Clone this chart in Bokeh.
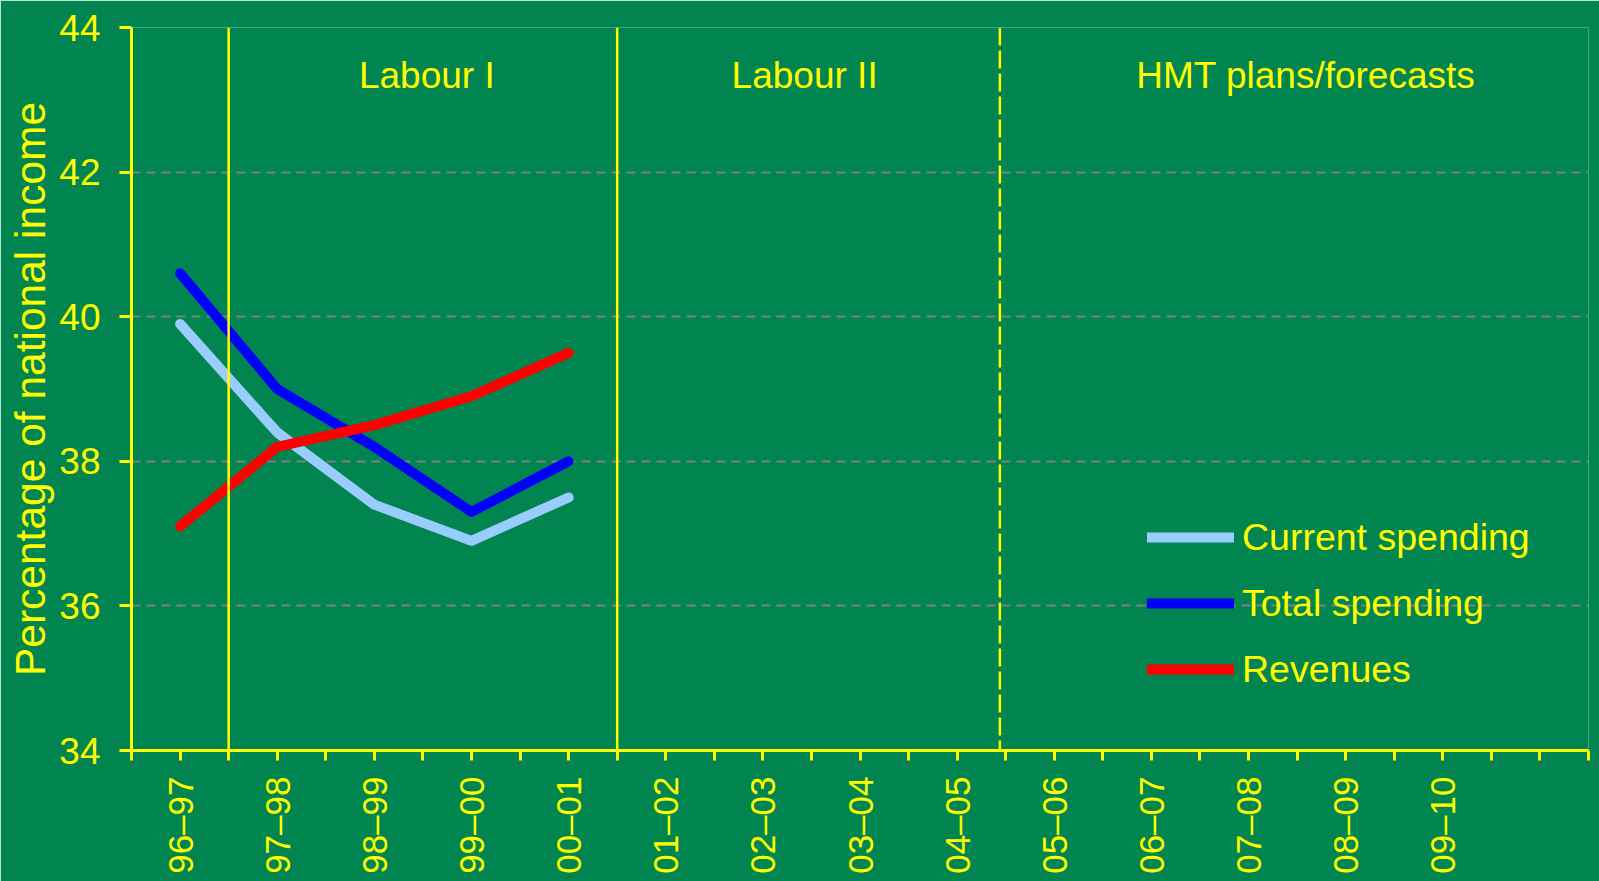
import math
from bokeh.plotting import figure
from bokeh.models import (Span, Range1d, FixedTicker, CustomJSTickFormatter,
                          Legend, LegendItem, ColumnDataSource)
from bokeh.core.properties import value
from bokeh.embed import file_html
from bokeh.resources import INLINE

# ---------------- data ----------------
categories = ["96–97", "97–98", "98–99", "99–00", "00–01", "01–02", "02–03",
              "03–04", "04–05", "05–06", "06–07", "07–08", "08–09", "09–10", ""]
years_idx = [0, 1, 2, 3, 4]
current_spending = [39.9, 38.4, 37.4, 36.9, 37.5]
total_spending = [40.6, 39.0, 38.2, 37.3, 38.0]
revenues = [37.1, 38.2, 38.5, 38.9, 39.5]
y_ticks = [34, 36, 38, 40, 42, 44]

period_labels = ["Labour I", "Labour II", "HMT plans/forecasts"]
period_label_x = [2.54, 6.43, 11.59]
period_label_y = [43.33, 43.33, 43.33]
solid_dividers = [0.5, 4.5]
dashed_divider = 8.44

# ---------------- style ----------------
BG = "#008550"
YEL = "#FFFF00"
FONT = "Liberation Sans"

p = figure(width=1599, height=881, output_backend="svg", toolbar_location=None,
           x_range=Range1d(-0.5, len(categories) - 0.5), y_range=Range1d(34, 44),
           min_border_left=131, min_border_top=27, min_border_right=11,
           min_border_bottom=131)
p.background_fill_color = BG
p.border_fill_color = BG
p.outline_line_color = None

# grid
p.xgrid.visible = False
p.ygrid.grid_line_color = "#808080"
p.ygrid.grid_line_dash = "9 6"
p.ygrid.grid_line_width = 2

# x axis
half_ticks = [k * 0.5 - 0.5 for k in range(2 * len(categories) + 1)]
p.xaxis.ticker = FixedTicker(ticks=half_ticks)
p.xaxis.formatter = CustomJSTickFormatter(args=dict(labels=categories), code="""
    const k = Math.round(tick * 2);
    if (k % 2 !== 0) return '';
    const i = k / 2;
    return (i >= 0 && i < labels.length) ? labels[i] : '';
""")
p.xaxis.major_label_orientation = math.pi / 2
p.xaxis.major_label_text_font = FONT
p.xaxis.major_label_text_font_size = "35px"
p.xaxis.major_label_text_color = YEL
p.xaxis.major_label_standoff = 16
p.xaxis.axis_line_color = YEL
p.xaxis.axis_line_width = 3
p.xaxis.major_tick_line_color = YEL
p.xaxis.major_tick_line_width = 3
p.xaxis.major_tick_in = 0
p.xaxis.major_tick_out = 10
p.xaxis.minor_tick_line_color = None

# y axis
p.yaxis.ticker = FixedTicker(ticks=y_ticks)
p.yaxis.major_label_text_font = FONT
p.yaxis.major_label_text_font_size = "37px"
p.yaxis.major_label_text_color = YEL
p.yaxis.major_label_standoff = 19
p.yaxis.axis_line_color = YEL
p.yaxis.axis_line_width = 3
p.yaxis.major_tick_line_color = YEL
p.yaxis.major_tick_line_width = 3
p.yaxis.major_tick_in = 0
p.yaxis.major_tick_out = 12
p.yaxis.minor_tick_line_color = None
p.yaxis.axis_label = "Percentage of national income"
p.yaxis.axis_label_text_font = FONT
p.yaxis.axis_label_text_font_size = "42.5px"
p.yaxis.axis_label_text_font_style = "normal"
p.yaxis.axis_label_text_color = YEL
p.yaxis.axis_label_standoff = 2

# lines
r1 = p.line(years_idx, current_spending, line_color="#99CCFF", line_width=10,
            line_cap="round", line_join="round")
r2 = p.line(years_idx, total_spending, line_color="#0000FF", line_width=10,
            line_cap="round", line_join="round")
r3 = p.line(years_idx, revenues, line_color="#FF0000", line_width=10,
            line_cap="round", line_join="round")

# dividers
for loc in solid_dividers:
    p.add_layout(Span(location=loc, dimension="height", line_color=YEL, line_width=2.5))
p.add_layout(Span(location=dashed_divider, dimension="height", line_color=YEL,
                  line_width=2.5, line_dash="18 5"))

# period labels
src = ColumnDataSource(dict(x=period_label_x, y=period_label_y, t=period_labels))
p.text(x="x", y="y", text="t", source=src, text_color=YEL,
       text_font=value(FONT), text_font_size="37px",
       text_align="center", text_baseline="middle")

# legend
legend = Legend(items=[LegendItem(label="Current spending", renderers=[r1]),
                       LegendItem(label="Total spending", renderers=[r2]),
                       LegendItem(label="Revenues", renderers=[r3])],
                location=(1016, 48))
legend.label_text_font = FONT
legend.label_text_font_size = "37.5px"
legend.label_text_color = YEL
legend.glyph_width = 87
legend.glyph_height = 20
legend.label_height = 66
legend.label_standoff = 8
legend.padding = 0
legend.spacing = 0
legend.margin = 0
legend.border_line_color = None
legend.background_fill_alpha = 0
p.add_layout(legend)

open("out.html", "w").write(file_html(p, INLINE))
